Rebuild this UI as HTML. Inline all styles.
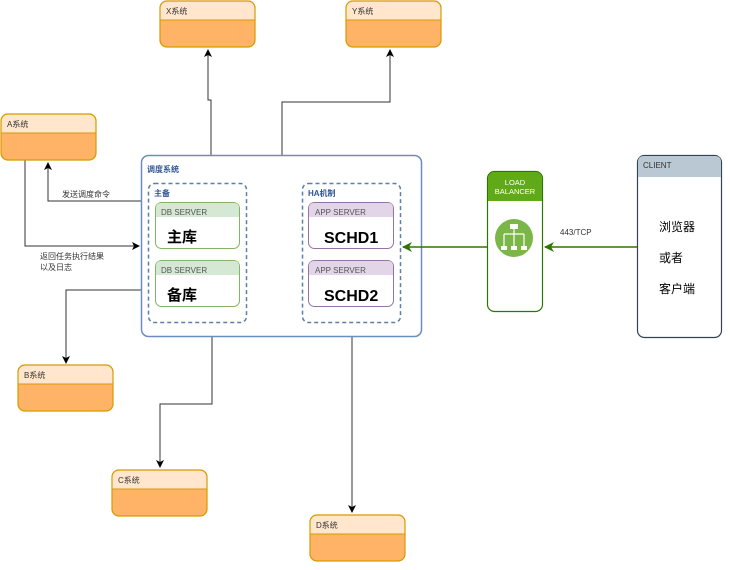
<!DOCTYPE html>
<html><head><meta charset="utf-8"><style>
html,body{margin:0;padding:0;background:#fff;width:730px;height:570px;overflow:hidden}
text{font-family:"Liberation Sans","Noto Sans CJK SC",sans-serif}
</style></head><body>
<svg width="730" height="570" viewBox="0 0 730 570" xmlns="http://www.w3.org/2000/svg">
<defs>
<marker id="ak" markerWidth="8" markerHeight="8" refX="7" refY="4" orient="auto" markerUnits="userSpaceOnUse"><path d="M0,0 L8,4 L0,8 L2,4z" fill="#000"/></marker>
<marker id="ag" markerWidth="10" markerHeight="10" refX="9" refY="5" orient="auto" markerUnits="userSpaceOnUse"><path d="M0,0 L10,5 L0,10 L3,5z" fill="#2d7600"/></marker>
<g id="obox">
<rect x="0" y="0" width="95" height="46" rx="7" fill="#ffb366" stroke="#d79b00"/>
<path d="M0.5,19 V7 Q0.5,0.5 7,0.5 H88 Q94.5,0.5 94.5,7 V19 Z" fill="#ffe6cc"/>
<line x1="0" y1="19" x2="95" y2="19" stroke="#d79b00"/>
<rect x="0" y="0" width="95" height="46" rx="7" fill="none" stroke="#d79b00" stroke-width="1.2"/>
</g>
</defs>
<g fill="none" stroke="#333" stroke-width="1">
<path d="M211,155 V100 H208 V50" marker-end="url(#ak)"/>
<path d="M282,155 V102 H390 V50" marker-end="url(#ak)"/>
<path d="M141,201 H48 V163" marker-end="url(#ak)"/>
<path d="M25,160 V246 H139" marker-end="url(#ak)"/>
<path d="M141,290 H66 V363" marker-end="url(#ak)"/>
<path d="M212,336 V404 H160 V467" marker-end="url(#ak)"/>
<path d="M352,336 V512" marker-end="url(#ak)"/>
</g>
<text x="62" y="197" font-size="8" fill="#333">发送调度命令</text>
<text x="40" y="259" font-size="8" fill="#333">返回任务执行结果</text>
<text x="40" y="270" font-size="8" fill="#333">以及日志</text>
<text x="560" y="235" font-size="8" fill="#333">443/TCP</text>
<use href="#obox" x="160" y="1"/><text x="166" y="14" font-size="8" fill="#333">X系统</text>
<use href="#obox" x="346" y="1"/><text x="352" y="14" font-size="8" fill="#333">Y系统</text>
<use href="#obox" x="1" y="114"/><text x="7" y="127" font-size="8" fill="#333">A系统</text>
<use href="#obox" x="18" y="365"/><text x="24" y="378" font-size="8" fill="#333">B系统</text>
<use href="#obox" x="112" y="470"/><text x="118" y="483" font-size="8" fill="#333">C系统</text>
<use href="#obox" x="310" y="515"/><text x="316" y="528" font-size="8" fill="#333">D系统</text>
<rect x="141.5" y="155.5" width="280" height="181" rx="7" fill="#fff" stroke="#6c8ebf" stroke-width="1.5"/>
<text x="147" y="172" font-size="8" font-weight="bold" fill="#2f5597">调度系统</text>
<rect x="148.5" y="183.5" width="98" height="139" rx="6" fill="none" stroke="#5b7fa8" stroke-width="1.5" stroke-dasharray="4,3"/>
<text x="154" y="196" font-size="8" font-weight="bold" fill="#2f5597">主备</text>
<rect x="302.5" y="183.5" width="98" height="139" rx="6" fill="none" stroke="#5b7fa8" stroke-width="1.5" stroke-dasharray="4,3"/>
<text x="308" y="196" font-size="8" font-weight="bold" fill="#2f5597">HA机制</text>
<g>
<rect x="155.5" y="202.5" width="84" height="46" rx="6" fill="#fff" stroke="#82b366"/>
<path d="M156,217 V208 Q156,203 161,203 H234 Q239,203 239,208 V217Z" fill="#d5e8d4"/>
<text x="161" y="215" font-size="8" fill="#555">DB SERVER</text>
<text x="167" y="242" font-size="15" font-weight="bold" fill="#000">主库</text>
<rect x="155.5" y="260.5" width="84" height="46" rx="6" fill="#fff" stroke="#82b366"/>
<path d="M156,275 V266 Q156,261 161,261 H234 Q239,261 239,266 V275Z" fill="#d5e8d4"/>
<text x="161" y="273" font-size="8" fill="#555">DB SERVER</text>
<text x="167" y="300" font-size="15" font-weight="bold" fill="#000">备库</text>
<rect x="308.5" y="202.5" width="85" height="46" rx="6" fill="#fff" stroke="#9673a6"/>
<path d="M309,217 V208 Q309,203 314,203 H388 Q393,203 393,208 V217Z" fill="#e1d5e7"/>
<text x="315" y="215" font-size="8" fill="#555">APP SERVER</text>
<text x="324" y="243" font-size="16" font-weight="bold" fill="#000">SCHD1</text>
<rect x="308.5" y="260.5" width="85" height="46" rx="6" fill="#fff" stroke="#9673a6"/>
<path d="M309,275 V266 Q309,261 314,261 H388 Q393,261 393,266 V275Z" fill="#e1d5e7"/>
<text x="315" y="273" font-size="8" fill="#555">APP SERVER</text>
<text x="324" y="301" font-size="16" font-weight="bold" fill="#000">SCHD2</text>
</g>
<rect x="487.5" y="171.5" width="55" height="140" rx="7" fill="#fff" stroke="#2d7600" stroke-width="1.2"/>
<path d="M488,201 V179 Q488,172 495,172 H535 Q542,172 542,179 V201Z" fill="#60a917"/>
<text x="515" y="185" font-size="7.5" fill="#fff" text-anchor="middle">LOAD</text>
<text x="515" y="194" font-size="7.5" fill="#fff" text-anchor="middle">BALANCER</text>
<circle cx="514" cy="238" r="19" fill="#7ab648"/>
<g fill="#fff" stroke="#fff" stroke-width="1.2">
<rect x="510" y="224" width="8" height="5" stroke="none"/>
<line x1="514" y1="229" x2="514" y2="234"/>
<line x1="504" y1="234" x2="524" y2="234" fill="none"/>
<line x1="504" y1="234" x2="504" y2="247"/><line x1="514" y1="234" x2="514" y2="247"/><line x1="524" y1="234" x2="524" y2="247"/>
<rect x="501" y="246" width="6" height="4" stroke="none"/><rect x="511" y="246" width="6" height="4" stroke="none"/><rect x="521" y="246" width="6" height="4" stroke="none"/>
</g>
<rect x="637.5" y="155.5" width="84" height="182" rx="7" fill="#fff" stroke="#314354" stroke-width="1.2"/>
<path d="M638,177 V162 Q638,156 644,156 H715 Q721,156 721,162 V177Z" fill="#bac8d3"/>
<text x="643" y="168" font-size="8" fill="#333">CLIENT</text>
<text x="659" y="231" font-size="12" fill="#000">浏览器</text>
<text x="659" y="262" font-size="12" fill="#000">或者</text>
<text x="659" y="293" font-size="12" fill="#000">客户端</text>
<g fill="none" stroke="#2d7600" stroke-width="1.5">
<path d="M637,247 H545" marker-end="url(#ag)"/>
<path d="M487,247 H403" marker-end="url(#ag)"/>
</g>
</svg>
</body></html>
